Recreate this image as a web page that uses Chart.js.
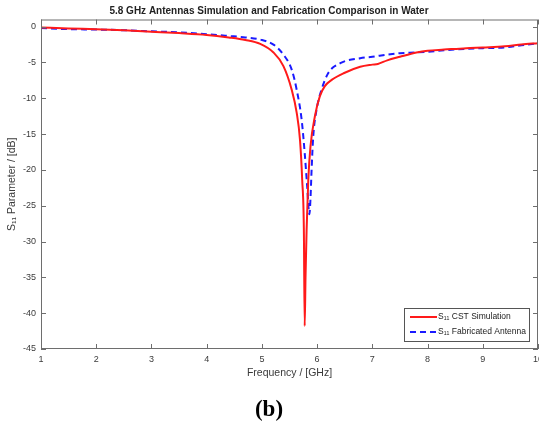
<!DOCTYPE html>
<html>
<head>
<meta charset="utf-8">
<script src="https://cdn.jsdelivr.net/npm/chart.js@4.4.1/dist/chart.umd.min.js"></script>
<style>
  html, body { margin: 0; padding: 0; background: #fff; }
  #wrap { width: 539px; height: 428px; }
</style>
</head>
<body>
<div id="wrap"><canvas id="s11_chart" width="539" height="428"></canvas></div>
<script>
// S11 of the CST simulation (red)
const freqSim = [1, 1.5, 2, 2.5, 3, 3.5, 4, 4.4, 4.7, 4.97, 5.21, 5.39, 5.54, 5.63, 5.69, 5.73, 5.76, 5.775, 5.79, 5.81, 5.84, 5.88, 5.96, 6.05, 6.14, 6.27, 6.48, 6.78, 7.0, 7.1, 7.27, 7.5, 7.8, 8.0, 8.3, 8.7, 9.0, 9.4, 9.7, 10]
const s11Sim = [-0.1, -0.25, -0.35, -0.5, -0.7, -0.9, -1.15, -1.5, -1.85, -2.4, -3.6, -5.5, -8.8, -12, -15.8, -21.4, -28.3, -41.8, -35, -28.3, -21.4, -16.7, -12.5, -9.7, -8.3, -7.4, -6.5, -5.6, -5.3, -5.2, -4.7, -4.2, -3.6, -3.35, -3.2, -3.0, -2.9, -2.75, -2.5, -2.3]

// S11 of the fabricated antenna (blue dashed)
const freqFab = [1, 1.5, 2, 2.5, 3, 3.5, 4, 4.4, 4.7, 4.97, 5.21, 5.39, 5.54, 5.63, 5.72, 5.78, 5.82, 5.86, 5.88, 5.9, 5.93, 5.99, 6.08, 6.2, 6.42, 6.78, 7.0, 7.27, 7.5, 7.8, 8.0, 8.3, 8.7, 9.0, 9.4, 9.7, 10]
const s11Fab = [-0.2, -0.35, -0.4, -0.5, -0.65, -0.8, -1.05, -1.3, -1.5, -1.8, -2.5, -3.9, -6.0, -8.8, -13, -18.1, -22.3, -26.2, -24, -20, -15.3, -11.6, -8.8, -6.5, -5.1, -4.4, -4.2, -3.9, -3.7, -3.6, -3.5, -3.3, -3.1, -3.0, -2.9, -2.6, -2.3]

const xTicks = [1, 2, 3, 4, 5, 6, 7, 8, 9, 10]
const yTicks = [-45, -40, -35, -30, -25, -20, -15, -10, -5, 0]

const axisColor = '#6e6e6e'
const textColor = '#3a3a3a'

const toPoints = (xs, ys) => xs.map((x, i) => ({ x: x, y: ys[i] }))

// box round the axes, inward tick marks and the legend in the lower right corner
const frameAndLegend = {
    id: 'frameAndLegend',
    afterDatasetsDraw(chart) {
        const { ctx, chartArea: a, scales } = chart
        ctx.save()
        ctx.strokeStyle = axisColor
        ctx.lineWidth = 1
        ctx.setLineDash([])
        ctx.strokeRect(a.left + 0.5, a.top + 0.5, a.right - a.left - 1, a.bottom - a.top - 1)

        const tl = 5
        ctx.beginPath()
        scales.x.ticks.forEach(t => {
            const px = Math.round(scales.x.getPixelForValue(t.value)) + 0.5
            ctx.moveTo(px, a.bottom); ctx.lineTo(px, a.bottom - tl)
            ctx.moveTo(px, a.top); ctx.lineTo(px, a.top + tl)
        })
        scales.y.ticks.forEach(t => {
            const py = Math.round(scales.y.getPixelForValue(t.value)) + 0.5
            ctx.moveTo(a.left, py); ctx.lineTo(a.left + tl, py)
            ctx.moveTo(a.right, py); ctx.lineTo(a.right - tl, py)
        })
        ctx.stroke()

        // legend
        const w = 125, h = 33
        const lx = a.right - 9 - w, ly = a.bottom - 8 - h
        ctx.fillStyle = '#fff'
        ctx.fillRect(lx, ly, w, h)
        ctx.strokeStyle = '#555'
        ctx.strokeRect(lx + 0.5, ly + 0.5, w, h)
        ctx.font = '8.5px "Liberation Sans", Arial, sans-serif'
        ctx.textBaseline = 'middle'
        chart.data.datasets.forEach((ds, i) => {
            const ry = ly + 9 + i * 15
            ctx.strokeStyle = ds.borderColor
            ctx.lineWidth = 2
            ctx.setLineDash(ds.borderDash || [])
            ctx.beginPath()
            ctx.moveTo(lx + 6, ry); ctx.lineTo(lx + 33, ry)
            ctx.stroke()
            ctx.fillStyle = '#222'
            ctx.fillText(ds.label, lx + 34, ry)
        })
        ctx.restore()
    }
}

const ctx = document.getElementById('s11_chart').getContext('2d')
const myChart = new Chart(ctx, {
    type: 'line',
    data: {
        datasets: [{
            label: 'S\u2081\u2081 CST Simulation',
            data: toPoints(freqSim, s11Sim),
            borderColor: '#ff1a1a',
            borderWidth: 2,
            pointRadius: 0,
            cubicInterpolationMode: 'monotone'
        }, {
            label: 'S\u2081\u2081 Fabricated Antenna',
            data: toPoints(freqFab, s11Fab),
            borderColor: '#1a1aff',
            borderWidth: 2,
            borderDash: [6, 4],
            pointRadius: 0,
            cubicInterpolationMode: 'monotone'
        }]
    },
    options: {
        responsive: false,
        animation: false,
        layout: { padding: { left: 0, right: 1, top: 0, bottom: 0 } },
        plugins: {
            legend: { display: false },
            tooltip: { enabled: false },
            title: {
                display: true,
                text: '5.8 GHz Antennas Simulation and Fabrication Comparison in Water',
                color: '#222',
                font: { family: '"Liberation Sans", Arial, sans-serif', size: 10, weight: 'bold', lineHeight: 1.2 },
                padding: { top: 5, bottom: 2.5 }
            },
            subtitle: {
                display: true,
                position: 'bottom',
                text: '(b)',
                color: '#000',
                font: { family: '"Liberation Serif", "Times New Roman", serif', size: 23, weight: 'bold', lineHeight: 1.2 },
                padding: { top: 15, bottom: 4.4 }
            }
        },
        scales: {
            x: {
                type: 'linear',
                min: 1,
                max: 10,
                afterBuildTicks: s => { s.ticks = xTicks.map(v => ({ value: v })) },
                afterFit: s => { s.height = 32; s.paddingLeft = 0; s.paddingRight = 0 },
                grid: { display: false, drawTicks: false },
                border: { display: false },
                ticks: {
                    color: textColor,
                    padding: 5,
                    maxRotation: 0,
                    font: { family: '"Liberation Sans", Arial, sans-serif', size: 9 }
                },
                title: {
                    display: true,
                    text: 'Frequency / [GHz]',
                    color: textColor,
                    font: { family: '"Liberation Sans", Arial, sans-serif', size: 10.5 },
                    padding: { top: 0, bottom: 1.7 }
                }
            },
            y: {
                type: 'linear',
                min: -45,
                max: 1,
                afterBuildTicks: s => { s.ticks = yTicks.map(v => ({ value: v })) },
                afterFit: s => { s.width = 41; s.paddingTop = 0; s.paddingBottom = 0 },
                grid: { display: false, drawTicks: false },
                border: { display: false },
                ticks: {
                    color: textColor,
                    padding: 5,
                    font: { family: '"Liberation Sans", Arial, sans-serif', size: 9 }
                },
                title: {
                    display: true,
                    text: 'S\u2081\u2081 Parameter / [dB]',
                    color: textColor,
                    font: { family: '"Liberation Sans", Arial, sans-serif', size: 10.5 },
                    padding: { top: 6, bottom: 0 }
                }
            }
        }
    },
    plugins: [frameAndLegend]
})
</script>
</body>
</html>
